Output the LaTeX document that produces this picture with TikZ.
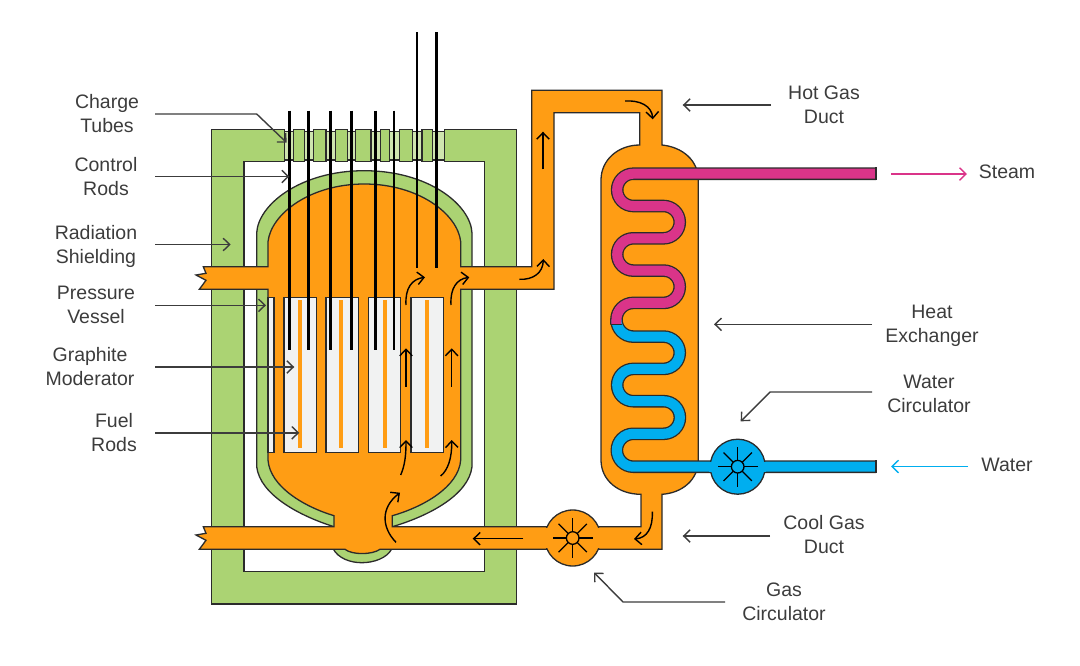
\documentclass[tikz,border=0pt]{standalone}
\usepackage{fontspec}
\setmainfont{Liberation Sans}
\usepackage{xcolor}
\usetikzlibrary{arrows.meta}
\definecolor{shieldgreen}{HTML}{ABD373}
\definecolor{stripgreen}{HTML}{CFE5AF}
\definecolor{gasorange}{HTML}{FF9D14}
\definecolor{steampink}{HTML}{DA3489}
\definecolor{waterblue}{HTML}{00AEEF}
\definecolor{boxgrey}{HTML}{F1F2F2}
\definecolor{outline}{HTML}{2B2B2B}
\definecolor{labelgrey}{HTML}{3C3C3C}
\tikzset{
    wall/.style={
        draw=outline,
        line width=1.3pt,
        line join=miter,
    },
    flow arrow/.style={
        draw=black,
        line width=1.4pt,
        -{Straight Barb[length=6.5pt,width=12.5pt]},
    },
    leader/.style={
        draw=labelgrey,
        line width=1.4pt,
        -{Straight Barb[length=6.5pt,width=12.5pt]},
    },
    control rod/.style={
        draw=black,
        line width=2.9pt,
    },
    pipe casing/.style={
        draw=outline,
        line width=12.6pt,
    },
    pipe core/.style={
        line width=10pt,
    },
    part label/.style={
        text=labelgrey,
        align=center,
        font=\fontsize{19.5}{24}\selectfont,
    },
}
\begin{document}
\begin{tikzpicture}[x=1pt,y=-1pt]
    \useasboundingbox (0,0) rectangle (1080,665);

    % shielding
    \draw[wall,fill=shieldgreen] (211.7,129.3) -- (284.3,129.3) -- (284.3,161.7) -- (244,161.7) -- (244,571.7)
        -- (484.3,571.7) -- (484.3,161.7) -- (444.3,161.7) -- (444.3,129.3) -- (516.7,129.3)
        -- (516.7,604) -- (211.7,604) -- cycle;
    \draw[wall,fill=stripgreen] (284.3,131.7) rectangle (444.3,160);
    \foreach \xa/\xb in {293.3/304.7,313.3/326,335.3/347.3,355.7/371,380.7/389.3,399.3/412.3,422/432.3}
    {
        \draw[wall,fill=shieldgreen] (\xa,129.3) rectangle (\xb,161.7);
    }

    % pressure vessel
    \draw[wall,fill=shieldgreen] (256.7,233) .. controls (258,205) and (300,170.7) .. (364.3,170.7)
        .. controls (428.6,170.7) and (470.7,205) .. (472,233) -- (472,466.7)
        .. controls (468.7,495) and (428.7,516) .. (392.3,526.7) -- (392.3,540) -- (334,540) -- (334,526.7)
        .. controls (300,516) and (260,495) .. (256.7,466.7) -- cycle;
    \draw[wall,fill=shieldgreen] (333.3,549) .. controls (338,558) and (350,562.7) .. (361.7,562.7)
        .. controls (374,562.7) and (387,558) .. (391.7,549) -- cycle;

    % gas circuit
    \draw[wall,fill=gasorange,even odd rule] (203.3,266.7) -- (268,266.7) -- (268,241.7)
        .. controls (271,214) and (310,184) .. (364.3,184)
        .. controls (418.6,184) and (457.7,214) .. (460.7,241.7)
        -- (460.7,266.7) -- (531.7,266.7) -- (531.7,90.3) -- (662,90.3) -- (662,145)
        .. controls (682,147) and (698.3,160) .. (698.3,180) -- (698.3,460)
        .. controls (698.3,480) and (682,493) .. (662,494.3) -- (662,549.3) -- (380,549.3)
        .. controls (372,555) and (352,555) .. (345,549.3) -- (199.3,549.3)
        -- (206,540.3) -- (196,535) -- (206,533.3) -- (203.3,526.7) -- (334,526.7) -- (334,515.7)
        .. controls (305,507) and (270,487) .. (268,460) -- (268,289.3) -- (199.3,289.3)
        -- (206,280.3) -- (196,275) -- (206,273.3) -- cycle
        (460.7,289.3) -- (554,289.3) -- (554,112.7) -- (639.7,112.7) -- (639.7,145)
        .. controls (618,145) and (601,160) .. (601,180) -- (601,460)
        .. controls (601,480) and (618,494.3) .. (641,494.3) -- (641,526.7) -- (392.3,526.7) -- (392.3,515.7)
        .. controls (423,507) and (458.7,487) .. (460.7,460) -- cycle;

    % graphite blocks and fuel
    \draw[wall,fill=boxgrey] (268,297.3) rectangle (274,452.3);
    \foreach \xa/\xb/\fa in {284/316.7/298,326/358.3/339,368.3/400.7/382.7,411/443.3/425}
    {
        \draw[wall,fill=boxgrey] (\xa,297.3) rectangle (\xb,452.3);
        \fill[gasorange] (\fa,300) rectangle (\fa+4.4,447.7);
    }

    % rods
    \foreach \x in {289.3,308.7,330.7,351.3,375.7,394}
    {
        \draw[control rod] (\x,110.7) -- (\x,350);
    }
    \foreach \x in {417,436.3}
    {
        \draw[control rod] (\x,32.3) -- (\x,268.3);
    }

    % heat exchanger coil
    \newcommand\coilpink{(876,173.7) -- (633.3,173.7) arc[start angle=-90,end angle=-270,radius=16.15]
        -- (663.6,206) arc[start angle=-90,end angle=90,radius=16.15]
        -- (633.3,238.3) arc[start angle=-90,end angle=-270,radius=16.15]
        -- (663.6,270.6) arc[start angle=-90,end angle=90,radius=16.15]
        -- (633.3,302.9) arc[start angle=-90,end angle=-180,radius=16.85] -- (616.45,324.5)}
    \newcommand\coilblue{(616.45,319.75) arc[start angle=-180,end angle=-270,radius=16.85]
        -- (663.6,336.6) arc[start angle=-90,end angle=90,radius=16.15]
        -- (633.3,368.9) arc[start angle=-90,end angle=-270,radius=16.15]
        -- (663.6,401.2) arc[start angle=-90,end angle=90,radius=16.3]
        -- (633.3,433.8) arc[start angle=-90,end angle=-270,radius=16.45] -- (876,466.7)}
    \draw[pipe casing] \coilpink;
    \draw[pipe casing] \coilblue;
    \draw[pipe core,draw=waterblue] \coilblue;
    \draw[pipe core,draw=steampink] \coilpink;
    \draw[wall] (611,324.5) -- (622,324.5);
    \draw[wall] (876,167.4) -- (876,180);
    \draw[wall] (876,460.4) -- (876,473);

    % circulators
    \newcommand\blower[5]{
        \draw[wall,fill=#3] (#1,#2) circle (#4);
        \fill[#3] (#1-#4-1,#2-#5) rectangle (#1+#4+1,#2+#5);
        \foreach \a in {0,45,...,315}
        {
            \draw[draw=black,line width=1.2pt] (#1,#2) -- ++(\a:20);
        }
        \draw[wall,draw=black,fill=#3] (#1,#2) circle (6.3);
    }
    \blower{572.7}{538}{gasorange}{28}{10.2}
    \blower{737.7}{466.7}{waterblue}{27.5}{5}

    % gas flow
    \draw[flow arrow] (406,305) .. controls (405,288) and (412,279) .. (425,277.3);
    \draw[flow arrow] (451,305) .. controls (450,288) and (457,279) .. (469.3,277.3);
    \draw[flow arrow] (519.3,279.3) .. controls (533,280) and (543,273) .. (543.3,259);
    \draw[flow arrow] (543,169.3) -- (543,131.7);
    \draw[flow arrow] (625,101) .. controls (640,100) and (652,106) .. (652.7,119.3);
    \draw[flow arrow] (652.3,511.7) .. controls (653,528) and (647,538) .. (634,539);
    \draw[flow arrow] (523.3,538.7) -- (472.7,538.7);
    \draw[flow arrow] (396,542.3) .. controls (382,528) and (380,508) .. (400,492.7);
    \draw[flow arrow] (400.7,475) .. controls (405,465) and (406,455) .. (406,440);
    \draw[flow arrow] (440.7,476) .. controls (448,470) and (452,458) .. (451.7,440);
    \draw[flow arrow] (406,386.7) -- (406,348.3);
    \draw[flow arrow] (451.7,386.7) -- (451.7,348.3);

    % labels
    \node[part label] (chargetubes) at (107,113.5) {Charge\\Tubes};
    \node[part label] (controlrods) at (106,177) {Control\\Rods};
    \node[part label] (radiation) at (96,246) {Radiation\\Shielding};
    \node[part label] (vessel) at (96,305) {Pressure\\Vessel};
    \node[part label] (moderator) at (90,367) {Graphite\\Moderator};
    \node[part label] (fuelrods) at (114,432.5) {Fuel\\Rods};
    \node[part label] (hotduct) at (824,105) {Hot Gas\\Duct};
    \node[part label] (steam) at (1007,172) {Steam};
    \node[part label] (exchanger) at (932,326) {Heat\\Exchanger};
    \node[part label] (watercirc) at (929,394) {Water\\Circulator};
    \node[part label] (water) at (1007,465) {Water};
    \node[part label] (coolduct) at (824,535) {Cool Gas\\Duct};
    \node[part label] (gascirc) at (784,602) {Gas\\Circulator};

    % leaders
    \coordinate (chargea) at (155,114);
    \coordinate (chargeb) at (256.7,114);
    \coordinate (chargec) at (286.7,142.7);
    \draw[leader] (chargea) -- (chargeb) -- (chargec);
    \foreach \name/\ya/\xb in {control/176.5/289.3,radiation/244.5/230.7,vessel/305.3/266,moderator/367/294.3,fuel/432.8/299.3}
    {
        \coordinate (\name a) at (155,\ya);
        \coordinate (\name b) at (\xb,\ya);
        \draw[leader] (\name a) -- (\name b);
    }
    \foreach \name/\xa/\xb/\ya in {hot/771/682.7/105,exchanger/872/714/324.3,cool/770/682.7/536}
    {
        \coordinate (\name a) at (\xa,\ya);
        \coordinate (\name b) at (\xb,\ya);
        \draw[leader] (\name a) -- (\name b);
    }
    \coordinate (circa) at (872,392);
    \coordinate (circb) at (770,392);
    \coordinate (circc) at (740.7,421.3);
    \draw[leader] (circa) -- (circb) -- (circc);
    \coordinate (gasa) at (725,602);
    \coordinate (gasb) at (623,602);
    \coordinate (gasc) at (594,572.5);
    \draw[leader] (gasa) -- (gasb) -- (gasc);

    \coordinate (steama) at (891,174);
    \coordinate (steamb) at (967,174);
    \draw[leader,draw=steampink] (steama) -- (steamb);
    \coordinate (watera) at (968,466.5);
    \coordinate (waterb) at (891,466.5);
    \draw[leader,draw=waterblue] (watera) -- (waterb);
\end{tikzpicture}
\end{document}
